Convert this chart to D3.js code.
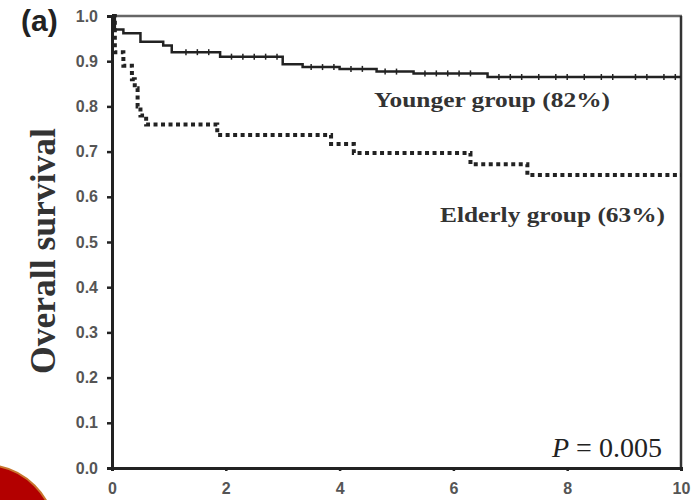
<!DOCTYPE html>
<html>
<head>
<meta charset="utf-8">
<script src="https://cdn.jsdelivr.net/npm/d3@7"></script>
<style>
    body { margin: 0; background: #fff; }
    svg { display: block; }
    .tick text { font-family: Arial, "Liberation Sans", sans-serif; font-weight: bold; font-size: 16px; fill: #555; }
</style>
</head>
<body>
<svg id="chart" width="697" height="500"></svg>
<script>
// Kaplan-Meier steps
const youngTime = [0, 0.05, 0.2, 0.5, 0.9, 1.05, 1.9, 3.0, 3.35, 4.0, 4.65, 5.3, 6.6, 10]
const youngSurv = [1.0, 0.97, 0.962, 0.943, 0.935, 0.92, 0.91, 0.893, 0.887, 0.883, 0.877, 0.873, 0.865, 0.865]
const youngCensor = [1.3, 1.5, 1.7, 2.1, 2.3, 2.5, 2.7, 2.9, 3.5, 3.7, 3.9, 4.2, 4.4, 4.8, 5.0, 5.5, 5.7, 5.9, 6.1, 6.3, 6.8, 7.0, 7.2, 7.5, 7.8, 8.0, 8.3, 8.6, 8.8, 9.2, 9.4, 9.7, 9.9]

const elderTime = [0, 0.05, 0.2, 0.35, 0.4, 0.45, 0.5, 0.6, 1.85, 3.85, 4.25, 6.3, 7.3, 10]
const elderSurv = [1.0, 0.92, 0.89, 0.86, 0.84, 0.80, 0.78, 0.76, 0.737, 0.717, 0.697, 0.672, 0.648, 0.648]

const xTicks = [0, 2, 4, 6, 8, 10]
const yTicks = [0, 0.1, 0.2, 0.3, 0.4, 0.5, 0.6, 0.7, 0.8, 0.9, 1.0]

const svg = d3.select('#chart')

const x = d3.scaleLinear().domain([0, 10]).range([112, 681])
const y = d3.scaleLinear().domain([0, 1]).range([468, 16])

const STROKE = '#222'
const SERIF = '"Liberation Serif", "Times New Roman", serif'

// red badge bottom-left
svg.append('circle')
    .attr('cx', -15)
    .attr('cy', 535)
    .attr('r', 70)
    .attr('fill', '#b30000')
    .attr('stroke', '#c8762e')
    .attr('stroke-width', 2)

// frame top / right
svg.append('line')
    .attr('x1', x(0)).attr('x2', x(10) + 1)
    .attr('y1', y(1)).attr('y2', y(1))
    .attr('stroke', '#666').attr('stroke-width', 2.5)
svg.append('line')
    .attr('x1', x(10)).attr('x2', x(10))
    .attr('y1', y(1)).attr('y2', y(0))
    .attr('stroke', '#333').attr('stroke-width', 2.5)

// axes
const yAxis = svg.append('g')
    .attr('transform', `translate(${x(0)},0)`)
    .call(d3.axisLeft(y).tickValues(yTicks).tickFormat(d3.format('.1f')).tickSize(5).tickPadding(9))
const xAxis = svg.append('g')
    .attr('transform', `translate(0,${y(0)})`)
    .call(d3.axisBottom(x).tickValues(xTicks).tickFormat(d3.format('d')).tickSize(3).tickPadding(12))

;[yAxis, xAxis].forEach(ax => {
    ax.select('.domain').attr('stroke', STROKE).attr('stroke-width', 3)
    ax.selectAll('.tick line').attr('stroke', STROKE).attr('stroke-width', 2.5)
})

const line = d3.line()
    .x(d => x(d[0]))
    .y(d => y(d[1]))
    .curve(d3.curveStepAfter)

const young = youngTime.map((t, i) => [t, youngSurv[i]])
const elder = elderTime.map((t, i) => [t, elderSurv[i]])

svg.append('path')
    .attr('d', line(young))
    .attr('fill', 'none')
    .attr('stroke', STROKE)
    .attr('stroke-width', 2.5)

const survAt = (times, survs, t) => {
    let s = survs[0]
    times.forEach((tt, i) => { if (tt <= t) s = survs[i] })
    return s
}

svg.append('g').selectAll('line')
    .data(youngCensor)
    .join('line')
    .attr('x1', d => x(d)).attr('x2', d => x(d))
    .attr('y1', d => y(survAt(youngTime, youngSurv, d)) - 3)
    .attr('y2', d => y(survAt(youngTime, youngSurv, d)) + 3)
    .attr('stroke', STROKE)
    .attr('stroke-width', 1.5)

svg.append('path')
    .attr('d', line(elder))
    .attr('fill', 'none')
    .attr('stroke', STROKE)
    .attr('stroke-width', 4)
    .attr('stroke-dasharray', '4,3.5')

// texts
svg.append('text')
    .text('(a)')
    .attr('x', 21).attr('y', 31)
    .attr('font-family', 'Arial, "Liberation Sans", sans-serif')
    .attr('font-weight', 'bold')
    .attr('font-size', 30)
    .attr('fill', '#222')

svg.append('text')
    .text('Overall survival')
    .attr('transform', 'translate(55,251) rotate(-90)')
    .attr('text-anchor', 'middle')
    .attr('font-family', SERIF)
    .attr('font-weight', 'bold')
    .attr('font-size', 35)
    .attr('textLength', 246)
    .attr('lengthAdjust', 'spacingAndGlyphs')
    .attr('fill', '#333')

const serifText = (txt, tx, ty, len) => svg.append('text')
    .text(txt)
    .attr('x', tx).attr('y', ty)
    .attr('font-family', SERIF)
    .attr('font-weight', 'bold')
    .attr('font-size', 22)
    .attr('textLength', len)
    .attr('lengthAdjust', 'spacingAndGlyphs')
    .attr('fill', '#333')

serifText('Younger group (82%)', 374, 107, 236)
serifText('Elderly group (63%)', 440, 222, 225)

const pText = svg.append('text')
    .attr('x', 552).attr('y', 457)
    .attr('font-family', SERIF)
    .attr('font-size', 28)
    .attr('fill', '#222')
pText.append('tspan').attr('font-style', 'italic').text('P')
pText.append('tspan').text(' = 0.005')
</script>
</body>
</html>
